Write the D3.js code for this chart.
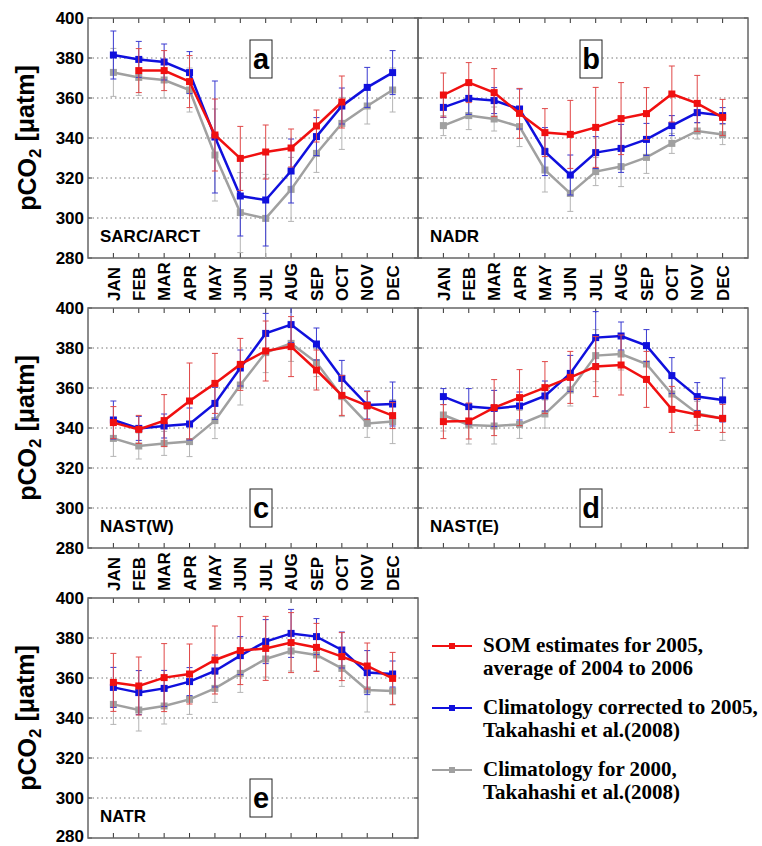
<!DOCTYPE html>
<meta charset="utf-8">
<html>
<head>
<style>
  body { margin: 0; background: #fff; }
  svg { font-family: "Liberation Sans", Arial, sans-serif; font-weight: bold; }
  .grid line { stroke: #777; stroke-width: 1; stroke-dasharray: 1.5,3; }
  .frame { fill: none; stroke: #666; stroke-width: 1.5; }
  .tick { stroke: #333; stroke-width: 1; }
  .ylab { font-size: 17px; }
  .mon { font-size: 17px; }
  .region { font-size: 17px; }
  .legend text { font-family: "Liberation Serif", "Times New Roman", serif; font-weight: bold; font-size: 21px; }
</style>
</head>
<body>
<script src="https://d3js.org/d3.v7.min.js"></script>
<script>

// months on the x axis
var months = ["JAN","FEB","MAR","APR","MAY","JUN","JUL","AUG","SEP","OCT","NOV","DEC"];
var yTicks = [280, 300, 320, 340, 360, 380, 400];

var letters = ["a", "b", "c", "d", "e"];
var regions = ["SARC/ARCT", "NADR", "NAST(W)", "NAST(E)", "NATR"];

var legendLabels = [
  ["SOM estimates for 2005,", "average of 2004 to 2006"],
  ["Climatology corrected to 2005,", "Takahashi et al.(2008)"],
  ["Climatology for 2000,", "Takahashi et al.(2008)"]
];

// SOM estimates (red) and their error bars
var somA = [null,373.7,373.7,368.2,341.5,329.8,333,335,346,358,null,null];
var somErrA = [null,11,10,13,18,16,13.5,9.5,8,13,null,null];
var somB = [361.5,367.7,362.7,352.3,342.7,341.8,345.3,349.7,352.2,362,357.3,350.3];
var somErrB = [11,10,12,12.5,12,17,20,18,13,14,14,9];
var somC = [342.7,339.3,343.7,353.5,362.3,371.8,378.5,380.7,369,356.3,351.2,346.2];
var somErrC = [8,7,13,19,15,13,15,15,10,10,7,6.5];
var somD = [343.2,343.5,350.2,355.2,360.2,365.3,370.7,371.5,364.3,349.3,346.8,344.8];
var somErrD = [8.5,9,14,14,13,13,15,15,14,11.5,8,7];
var somE = [357.8,356,360.2,362,369,373.7,374.8,377.7,375.3,370.7,366,359.8];
var somErrE = [14.5,14.5,17,15,17,17,16,15,12,12,11.5,13];

// climatology corrected to 2005 (blue)
var climA = [381.5,379.3,378,372.7,340.5,311,309,323.5,340.7,356,365.3,372.7];
var climErrA = [12,9,9,10.5,28,20,23,16,9.5,9,10,11];
var climB = [355.3,359.8,358.7,354.5,333.2,321.5,332.7,334.8,339.3,346.2,352.7,351.2];
var climErrB = [5,8,6.5,10,12,10,8,12,8,5,5,4];
var climC = [344,339.8,341,342,352.3,370,387.3,391.7,382,364.8,351.5,352];
var climErrC = [9.5,6,6,8,8,9,10,9,8,9,7,11];
var climD = [355.7,350.7,349.8,351,356,367.3,385.2,386,381.2,366.2,355.7,354];
var climErrD = [4,9,9,7,7.5,9,13,7,8,9,7,11];
var climE = [355.3,352.7,354.8,358.2,363.5,371.2,378.2,382.3,380.7,374,362.7,362];
var climErrE = [10,11,9,7,8,9.5,11,12,9,9,11,6.5];

// climatology for 2000 (grey)
var c2000A = [372.8,370.3,369,364,331.5,302.7,299.8,314.3,332.3,347.3,356,364];
var c2000ErrA = [12,9,9,11,23,20,22,16,9.5,13,9,11];
var c2000B = [346.2,351.2,349.5,345.7,324,312.3,323.2,325.7,330.3,337.3,343.5,341.7];
var c2000ErrB = [5,7,6,10,11,9,7,10,8,5,4,5];
var c2000C = [334.8,331,332.3,333.2,343.7,361.5,377.7,382.3,372.7,355.7,342.3,343.2];
var c2000ErrC = [9,6.5,6,7.5,9,10,10,9,7,10,7,11];
var c2000D = [346.5,341.5,341,341.8,347,359,376.2,377,372,357,347.3,344.8];
var c2000ErrD = [8,9.5,9,7,7,8,13,8,9,8,6,11];
var c2000E = [346.8,344,346,349.3,354.8,362.3,369.5,373.5,371.5,364.8,354,353.5];
var c2000ErrE = [10,10.5,9,7.5,7,9.5,9,10,8,9,11,7];

var som = [somA, somB, somC, somD, somE];
var somErr = [somErrA, somErrB, somErrC, somErrD, somErrE];
var clim = [climA, climB, climC, climD, climE];
var climErr = [climErrA, climErrB, climErrC, climErrD, climErrE];
var c2000 = [c2000A, c2000B, c2000C, c2000D, c2000E];
var c2000Err = [c2000ErrA, c2000ErrB, c2000ErrC, c2000ErrD, c2000ErrE];

var colors = { red: "#f01010", blue: "#1010dd", grey: "#a0a0a0" };
var errColors = { red: "#e04848", blue: "#3a3ad0", grey: "#b4b4b4" };

var svg = d3.select("body").append("svg")
    .attr("width", 762)
    .attr("height", 846);

var W = 330, H = 240;
var x = d3.scaleLinear().domain([0, 13]).range([0, W]);
var y = d3.scaleLinear().domain([280, 400]).range([H, 0]);

// panel placement: left, top, show y labels, show month labels, letter box top
var layout = [
  {left: 88, top: 18, yl: true, xl: true, box: 22},
  {left: 418, top: 18, yl: false, xl: true, box: 22},
  {left: 88, top: 308, yl: true, xl: true, box: 181},
  {left: 418, top: 308, yl: false, xl: false, box: 181},
  {left: 88, top: 598, yl: true, xl: false, box: 181}
];

var line = d3.line()
    .defined(function(d) { return d != null; })
    .x(function(d, i) { return x(i + 1); })
    .y(function(d) { return y(d); });

layout.forEach(function(p, k) {
  var g = svg.append("g").attr("transform", "translate(" + p.left + "," + p.top + ")");

  g.append("clipPath").attr("id", "clip" + k)
    .append("rect").attr("width", W).attr("height", H);

  // dotted grid
  g.append("g").attr("class", "grid")
    .selectAll("line")
    .data(yTicks.slice(1, -1))
    .enter().append("line")
    .attr("x1", 0).attr("x2", W)
    .attr("y1", function(d) { return y(d); })
    .attr("y2", function(d) { return y(d); });

  // inward ticks
  var tk = g.append("g");
  months.forEach(function(m, i) {
    tk.append("line").attr("class", "tick")
      .attr("x1", x(i + 1)).attr("x2", x(i + 1)).attr("y1", H).attr("y2", H - 5);
    tk.append("line").attr("class", "tick")
      .attr("x1", x(i + 1)).attr("x2", x(i + 1)).attr("y1", 0).attr("y2", 5);
  });
  yTicks.forEach(function(v) {
    tk.append("line").attr("class", "tick")
      .attr("x1", 0).attr("x2", 4).attr("y1", y(v)).attr("y2", y(v));
    tk.append("line").attr("class", "tick")
      .attr("x1", W).attr("x2", W - 4).attr("y1", y(v)).attr("y2", y(v));
  });

  g.append("rect").attr("class", "frame").attr("width", W).attr("height", H);

  if (p.yl) {
    g.selectAll(".ylab").data(yTicks).enter().append("text")
      .attr("class", "ylab")
      .attr("x", -4)
      .attr("y", function(d) { return y(d); })
      .attr("dy", function(d) { return (k == 4 && d == 280) ? "0.25em" : "0.36em"; })
      .attr("text-anchor", "end")
      .text(function(d) { return d; });

    var yt = svg.append("text")
      .attr("transform", "translate(36," + (p.top + H / 2) + ") rotate(-90)")
      .attr("text-anchor", "middle")
      .style("font-size", "25px");
    yt.append("tspan").text("pCO");
    yt.append("tspan").attr("dy", "0.3em").style("font-size", "17px").text("2");
    yt.append("tspan").attr("dy", "-0.3em").text(" [\u03bcatm]");
  }

  if (p.xl) {
    g.selectAll(".mon").data(months).enter().append("text")
      .attr("class", "mon")
      .attr("transform", function(d, i) { return "translate(" + x(i + 1) + "," + (H + 43) + ") rotate(-90)"; })
      .attr("dy", "0.36em")
      .attr("text-anchor", "start")
      .text(function(d) { return d; });
  }

  // series: grey, blue, red
  var plot = g.append("g").attr("clip-path", "url(#clip" + k + ")");
  var series = [
    {v: c2000[k], e: c2000Err[k], c: "grey"},
    {v: clim[k], e: climErr[k], c: "blue"},
    {v: som[k], e: somErr[k], c: "red"}
  ];
  series.forEach(function(s) {
    var sg = plot.append("g");
    s.v.forEach(function(v, i) {
      if (v == null) return;
      var cx = x(i + 1), lo = y(v - s.e[i]), hi = y(v + s.e[i]);
      sg.append("line").attr("x1", cx).attr("x2", cx).attr("y1", lo).attr("y2", hi)
        .attr("stroke", errColors[s.c]).attr("stroke-width", 1);
      [lo, hi].forEach(function(yy) {
        sg.append("line").attr("x1", cx - 3).attr("x2", cx + 3).attr("y1", yy).attr("y2", yy)
          .attr("stroke", errColors[s.c]).attr("stroke-width", 1);
      });
    });
    sg.append("path").datum(s.v)
      .attr("d", line)
      .attr("fill", "none")
      .attr("stroke", colors[s.c])
      .attr("stroke-width", 2.5);
    sg.selectAll("rect").data(s.v.map(function(v, i) { return {v: v, i: i}; }).filter(function(d) { return d.v != null; }))
      .enter().append("rect")
      .attr("x", function(d) { return x(d.i + 1) - 3.5; })
      .attr("y", function(d) { return y(d.v) - 3.5; })
      .attr("width", 7).attr("height", 7)
      .attr("fill", colors[s.c]);
  });

  // panel letter in a box
  g.append("rect").attr("x", 162).attr("y", p.box).attr("width", 22).attr("height", 38)
    .attr("fill", "#fff").attr("stroke", "#222").attr("stroke-width", 1);
  g.append("text").attr("x", 173).attr("y", p.box + 29)
    .attr("text-anchor", "middle").style("font-size", "29px").text(letters[k]);

  g.append("text").attr("class", "region").attr("x", 12).attr("y", 224).text(regions[k]);
});

// legend
var lg = svg.append("g").attr("class", "legend");
var legendColors = ["red", "blue", "grey"];
legendLabels.forEach(function(lab, i) {
  var ly = 646 + i * 62;
  lg.append("line").attr("x1", 432).attr("x2", 472).attr("y1", ly).attr("y2", ly)
    .attr("stroke", colors[legendColors[i]]).attr("stroke-width", 2);
  lg.append("rect").attr("x", 449).attr("y", ly - 3).attr("width", 6).attr("height", 6)
    .attr("fill", colors[legendColors[i]]);
  lg.append("text").attr("x", 483).attr("y", ly + 6).text(lab[0]);
  lg.append("text").attr("x", 483).attr("y", ly + 29).text(lab[1]);
});

</script>
</body>
</html>
